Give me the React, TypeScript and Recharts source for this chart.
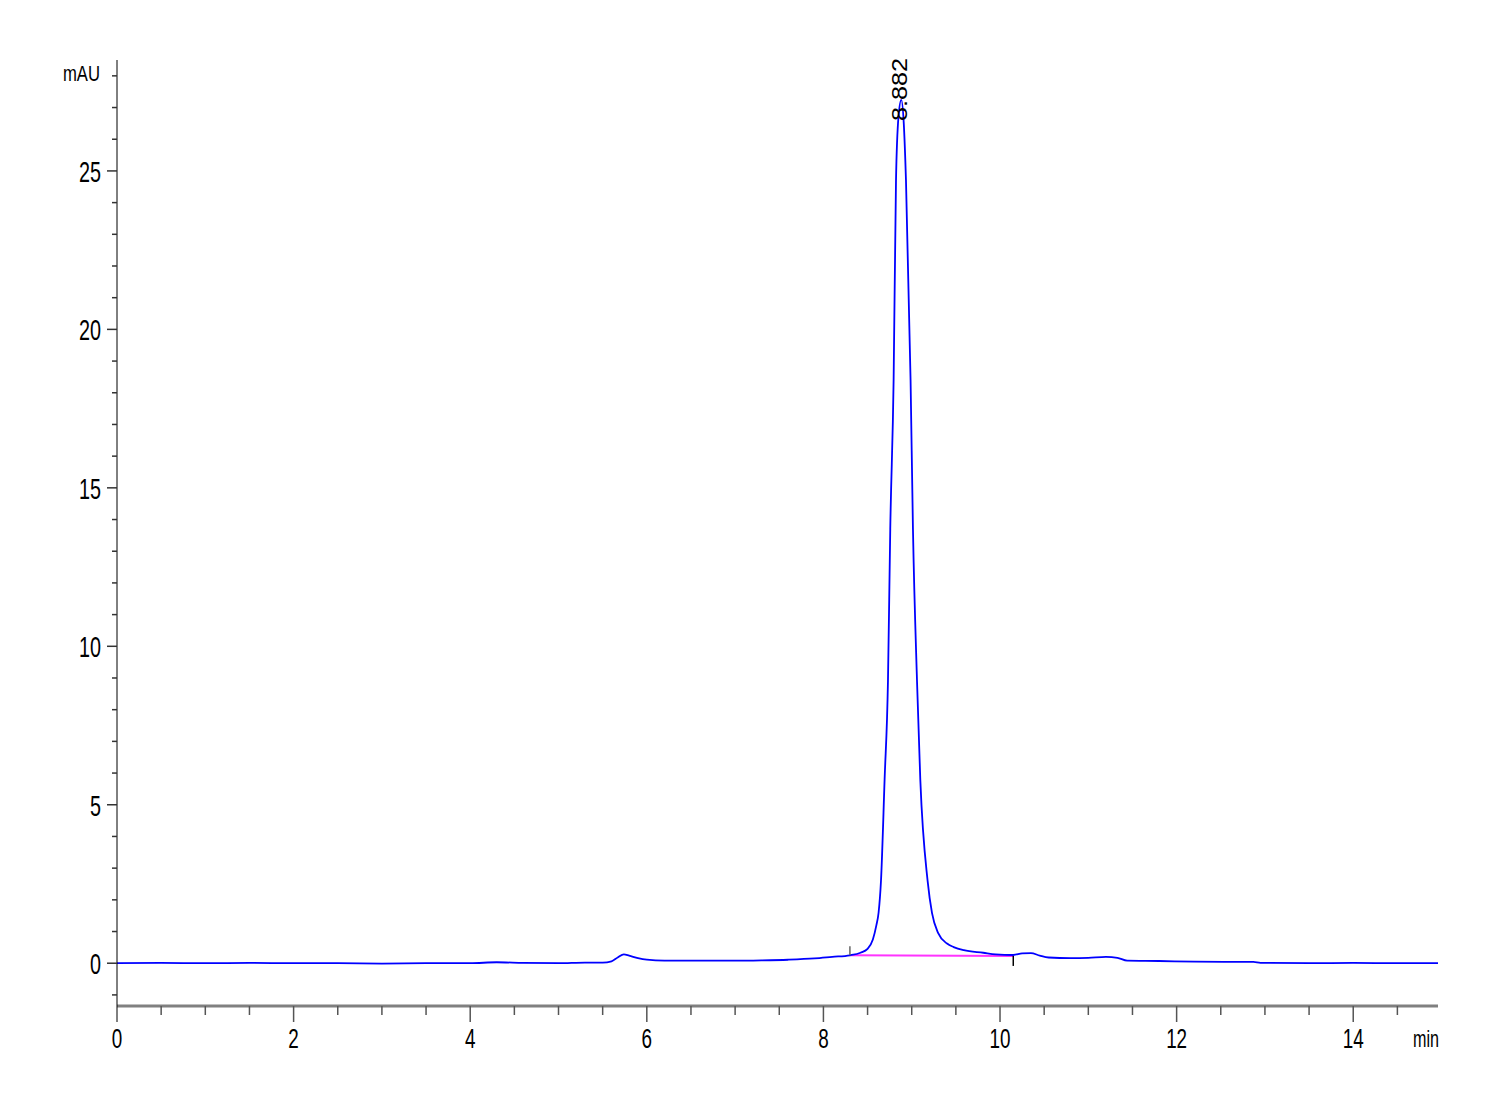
import { ComposedChart, Line, XAxis, YAxis, ReferenceDot, Label } from "recharts";

// retention time (min) and detector signal (mAU)
const times = [
  0, 0.5, 1.0, 1.5, 2.0, 2.5, 3.0, 3.5, 4.0, 4.3, 4.6, 5.0, 5.3, 5.5, 5.6, 5.67,
  5.74, 5.8, 5.9, 6.0, 6.2, 6.6, 7.0, 7.3, 7.6, 7.9, 8.1, 8.3, 8.42, 8.5, 8.56,
  8.6, 8.625, 8.652, 8.693, 8.731, 8.757, 8.795, 8.822, 8.85, 8.882, 8.91, 8.935,
  8.987, 9.014, 9.06, 9.097, 9.18, 9.23, 9.3, 9.4, 9.475, 9.59, 9.81, 9.95, 10.15,
  10.25, 10.35, 10.45, 10.55, 10.8, 11.0, 11.2, 11.33, 11.44, 11.8, 12.2, 12.87,
  12.95, 13.5, 14.0, 14.5, 14.96,
];
const signal = [
  0, 0.01, 0.0, 0.01, 0.0, 0.0, -0.01, 0.0, 0.0, 0.03, 0.01, 0.0, 0.02, 0.02, 0.06,
  0.18, 0.28, 0.24, 0.16, 0.11, 0.08, 0.08, 0.08, 0.09, 0.11, 0.15, 0.2, 0.25, 0.33,
  0.45, 0.75, 1.2, 1.6, 2.6, 5.8, 8.9, 13.7, 18.4, 24.7, 26.7, 27.24, 26.5, 24.7,
  18.4, 13.7, 8.9, 5.8, 2.6, 1.58, 0.95, 0.62, 0.51, 0.41, 0.33, 0.28, 0.26, 0.31,
  0.32, 0.24, 0.18, 0.16, 0.17, 0.2, 0.17, 0.08, 0.07, 0.05, 0.04, 0.01, 0.0, 0.01,
  0.0, 0.0,
];

// integration baseline under the main peak
const baseTimes = [8.3, 10.15];
const baseValues = [0.25, 0.23];

const peakTime = 8.882;
const peakHeight = 27.24;
const peakLabel = "8.882";

const xTicks = [
  0, 0.5, 1, 1.5, 2, 2.5, 3, 3.5, 4, 4.5, 5, 5.5, 6, 6.5, 7, 7.5, 8, 8.5, 9, 9.5,
  10, 10.5, 11, 11.5, 12, 12.5, 13, 13.5, 14, 14.5,
];
const yTicks = [
  -1, 0, 1, 2, 3, 4, 5, 6, 7, 8, 9, 10, 11, 12, 13, 14, 15, 16, 17, 18, 19, 20, 21,
  22, 23, 24, 25, 26, 27, 28,
];

const data = times.map((t, i) => ({ t, v: signal[i] }));
const baseData = baseTimes.map((t, i) => ({ t, v: baseValues[i] }));

const FONT = "Liberation Sans, Arial, sans-serif";

function XTick({ x, y, payload }: any) {
  const val = payload.value;
  const major = val % 2 === 0;
  const s = String(val);
  return (
    <g>
      <line
        x1={x}
        x2={x}
        y1={y}
        y2={y + (major ? 16 : 9)}
        stroke={val === 0 ? "#000" : "#555"}
        strokeWidth={val === 0 ? 1 : 1.5}
      />
      {major && (
        <text
          x={x}
          y={y + 42}
          textAnchor="middle"
          fontFamily={FONT}
          fontSize={28}
          textLength={s.length * 10.5}
          lengthAdjust="spacingAndGlyphs"
          fill="#000"
        >
          {s}
        </text>
      )}
    </g>
  );
}

function YTick({ x, y, payload }: any) {
  const val = payload.value;
  const major = val % 5 === 0;
  const s = String(val);
  return (
    <g>
      <line x1={x - (major ? 10 : 5)} x2={x} y1={y} y2={y} stroke="#333" strokeWidth={1.5} />
      {major && (
        <text
          x={x - 16}
          y={y + 11}
          textAnchor="end"
          fontFamily={FONT}
          fontSize={30}
          textLength={s.length * 11}
          lengthAdjust="spacingAndGlyphs"
          fill="#000"
        >
          {s}
        </text>
      )}
    </g>
  );
}

function BaseMark(props: any) {
  const { cx, cy, index } = props;
  if (index === 0) {
    return <line key="b0" x1={cx} x2={cx} y1={cy} y2={cy - 9} stroke="#666" strokeWidth={1.5} />;
  }
  if (index === baseData.length - 1) {
    return <line key="b1" x1={cx} x2={cx} y1={cy} y2={cy + 10} stroke="#000" strokeWidth={1.5} />;
  }
  return <g key={`b${index}`} />;
}

function PeakText(props: any) {
  const { cx, cy } = props;
  const bx = cx + 6;
  const by = cy + 21;
  return (
    <text
      x={bx}
      y={by}
      transform={`rotate(-90, ${bx}, ${by})`}
      fontFamily={FONT}
      fontSize={22}
      textLength={63}
      lengthAdjust="spacingAndGlyphs"
      fill="#000"
    >
      {peakLabel}
    </text>
  );
}

export default function App() {
  return (
    <div style={{ width: 1484, height: 1084, background: "#fff" }}>
      <ComposedChart
        width={1484}
        height={1084}
        data={data}
        margin={{ top: 52, right: 54, bottom: 26, left: 9 }}
      >
        <XAxis
          dataKey="t"
          type="number"
          domain={[0, 14.96]}
          ticks={xTicks}
          interval={0}
          allowDataOverflow
          tickSize={0}
          tickMargin={0}
          tickLine={false}
          axisLine={{ stroke: "#808080", strokeWidth: 3 }}
          tick={<XTick />}
          height={60}
        >
          <Label
            content={({ viewBox }: any) => (
              <text
                x={viewBox.x + viewBox.width + 1}
                y={viewBox.y + 41}
                textAnchor="end"
                fontFamily={FONT}
                fontSize={24}
                textLength={26}
                lengthAdjust="spacingAndGlyphs"
                fill="#000"
              >
                min
              </text>
            )}
          />
        </XAxis>
        <YAxis
          type="number"
          domain={[-1.35, 28.5]}
          ticks={yTicks}
          interval={0}
          allowDataOverflow
          tickSize={0}
          tickMargin={0}
          tickLine={false}
          axisLine={{ stroke: "#000", strokeWidth: 1 }}
          tick={<YTick />}
          width={100}
        >
          <Label
            content={({ viewBox }: any) => (
              <text
                x={viewBox.x + viewBox.width - 17}
                y={viewBox.y + 21}
                textAnchor="end"
                fontFamily={FONT}
                fontSize={22}
                textLength={37}
                lengthAdjust="spacingAndGlyphs"
                fill="#000"
              >
                mAU
              </text>
            )}
          />
        </YAxis>
        <Line
          data={baseData}
          dataKey="v"
          type="linear"
          stroke="#ff33ff"
          strokeWidth={2}
          dot={<BaseMark />}
          activeDot={false}
          isAnimationActive={false}
        />
        <Line
          dataKey="v"
          type="monotone"
          stroke="#0000ff"
          strokeWidth={1.8}
          dot={false}
          activeDot={false}
          isAnimationActive={false}
        />
        <ReferenceDot
          x={peakTime}
          y={peakHeight}
          r={0}
          ifOverflow="visible"
          shape={<PeakText />}
        />
      </ComposedChart>
    </div>
  );
}
